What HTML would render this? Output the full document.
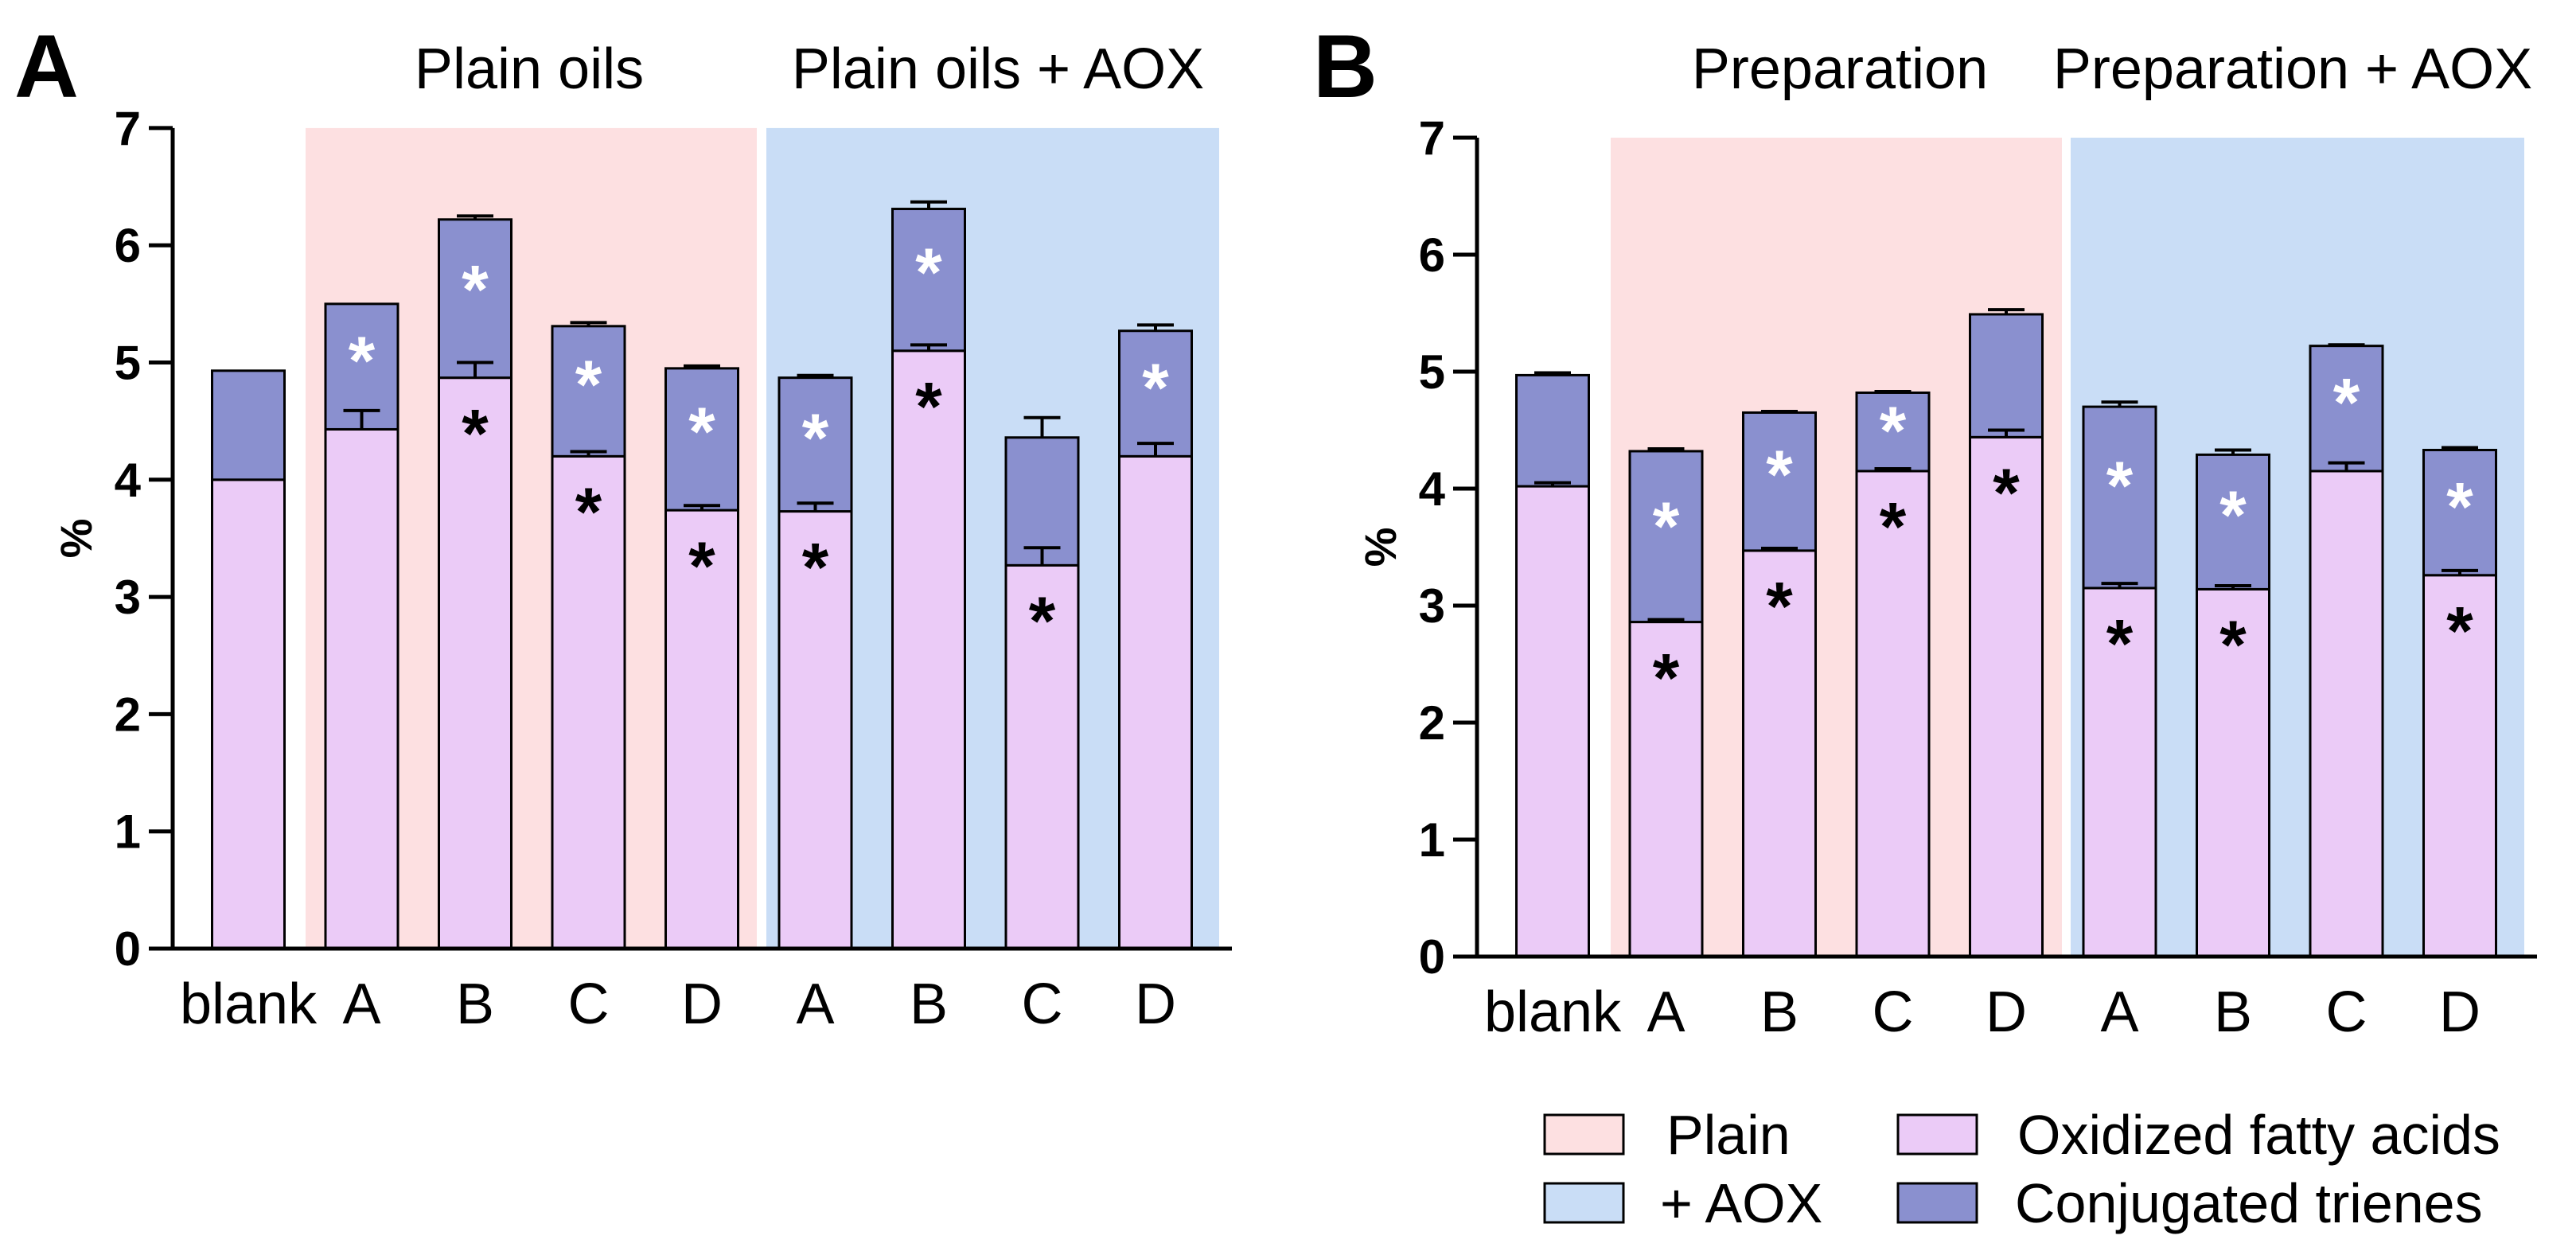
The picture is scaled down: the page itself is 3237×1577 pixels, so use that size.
<!DOCTYPE html>
<html><head><meta charset="utf-8"><style>
html,body{margin:0;padding:0;background:#fff;}
svg{display:block;font-family:"Liberation Sans",Arial,sans-serif;}
</style></head><body>
<svg id="fig" width="3237" height="1577" viewBox="0 0 3237 1577" xmlns="http://www.w3.org/2000/svg"></svg>
<script>
const categories = ["blank","A","B","C","D","A","B","C","D"];
const yTicks = [0,1,2,3,4,5,6,7];
// Panel A
const aOxidized = [4.00,4.43,4.87,4.20,3.74,3.73,5.10,3.27,4.20];
const aOxidizedErr = [0,0.16,0.13,0.04,0.04,0.07,0.05,0.15,0.11];
const aTotal = [4.93,5.50,6.22,5.31,4.95,4.87,6.31,4.36,5.27];
const aTotalErr = [0,0,0.03,0.03,0.02,0.02,0.06,0.17,0.05];
const aWhiteStar = [0,1,1,1,1,1,1,0,1];
const aBlackStar = [0,0,1,1,1,1,1,1,0];
// Panel B
const bOxidized = [4.02,2.86,3.47,4.15,4.44,3.15,3.14,4.15,3.26];
const bOxidizedErr = [0.03,0.02,0.02,0.02,0.06,0.04,0.03,0.07,0.04];
const bTotal = [4.97,4.32,4.65,4.82,5.49,4.70,4.29,5.22,4.33];
const bTotalErr = [0.02,0.02,0.01,0.01,0.04,0.04,0.04,0.01,0.02];
const bWhiteStar = [0,1,1,1,0,1,1,1,1];
const bBlackStar = [0,1,1,1,1,1,1,0,1];

const NS = "http://www.w3.org/2000/svg";
const svg = document.getElementById("fig");
function mk(tag, attrs, parent, text){
  const e = document.createElementNS(NS, tag);
  for (const k in attrs) e.setAttribute(k, attrs[k]);
  if (text !== undefined) e.textContent = text;
  (parent||svg).appendChild(e);
  return e;
}
const PINK="#fde0e1", BLUE="#c9ddf6", OX="#ebcbf7", CT="#8a90cf";

function panel(cfg){
  const g = mk("g",{});
  
  
  const y = v => cfg.y0 - v*cfg.unit;
  const x = i => cfg.x0 + i*cfg.step;
  const bg1 = mk("rect",{x:cfg.pink[0],y:y(7),width:cfg.pink[1]-cfg.pink[0],height:cfg.y0-y(7),fill:PINK},g);
  
  
  const bg2 = mk("rect",{x:cfg.blue[0],y:y(7),width:cfg.blue[1]-cfg.blue[0],height:cfg.y0-y(7),fill:BLUE},g);
  
  
  const bw = 91;
  for (let i=0;i<categories.length;i++){
    const cx = x(i);
    const ox = cfg.ox[i], tot = cfg.tot[i];
    const r1 = mk("rect",{x:cx-bw/2,y:y(ox),width:bw,height:cfg.y0-y(ox),fill:OX,stroke:"#000","stroke-width":3},g);
    
    
    const r2 = mk("rect",{x:cx-bw/2,y:y(tot),width:bw,height:y(ox)-y(tot),fill:CT,stroke:"#000","stroke-width":3},g);
    
    
    const errs = [[ox,cfg.oxe[i]],[tot,cfg.tote[i]]];
    errs.forEach(([v,e],k)=>{
      if (e<=0) return;
      const eb = mk("path",{d:`M${cx},${y(v)} V${y(v+e)} M${cx-23},${y(v+e)} H${cx+23}`,stroke:"#000","stroke-width":4,fill:"none"},g);
      
      
    });
    if (cfg.ws[i]){
      const sy = y(tot - 0.4*(tot-ox));
      const s = mk("text",{x:cx,y:sy+38,"text-anchor":"middle","font-size":86,"font-weight":"bold",fill:"#fff"},g,"*");
      
      
    }
    if (cfg.bs[i]){
      const sy = y(ox - 0.42);
      const s = mk("text",{x:cx,y:sy+38,"text-anchor":"middle","font-size":86,"font-weight":"bold",fill:"#000"},g,"*");
      
      
    }
    const lb = mk("text",{x:cx,y:cfg.y0+94,"text-anchor":"middle","font-size":72,fill:"#000"},g,categories[i]);
    
    
  }
  const ax = mk("path",{d:`M${cfg.ax},${y(7)} V${cfg.y0} H${cfg.xend}`,stroke:"#000","stroke-width":5,fill:"none"},g);
  
  
  yTicks.forEach(t=>{
    const tk = mk("line",{x1:cfg.ax-30,x2:cfg.ax,y1:y(t),y2:y(t),stroke:"#000","stroke-width":5},g);
    
    
    const tl = mk("text",{x:cfg.ax-40,y:y(t)+21,"text-anchor":"end","font-size":60,"font-weight":"bold"},g,String(t));
    
    
  });
  const yt = mk("text",{x:0,y:0,"text-anchor":"middle","font-size":56,"font-weight":"bold",transform:`translate(${cfg.ax-102},${y(3.5)}) rotate(-90)`},g,"%");
  
  
  const pl = mk("text",{x:cfg.letter[0],y:cfg.letter[1],"font-size":112,"font-weight":"bold"},g,cfg.letterText);
  
  
  const t1 = mk("text",{x:cfg.t1[0],y:cfg.t1[1],"text-anchor":"middle","font-size":72},g,cfg.t1[2]);
  
  
  const t2 = mk("text",{x:cfg.t2[0],y:cfg.t2[1],"text-anchor":"middle","font-size":72},g,cfg.t2[2]);
  
  
}

panel({name:"panel-a",x0:312,step:142.5,y0:1192,unit:147.3,ax:217,xend:1548,pink:[384,951],blue:[963,1532],
  ox:aOxidized,oxe:aOxidizedErr,tot:aTotal,tote:aTotalErr,ws:aWhiteStar,bs:aBlackStar,
  letter:[18,122],letterText:"A",t1:[665,111,"Plain oils"],t2:[1254,111,"Plain oils + AOX"]});
panel({name:"panel-b",x0:1951,step:142.5,y0:1202,unit:147,ax:1856,xend:3188,pink:[2024,2591],blue:[2602,3172],
  ox:bOxidized,oxe:bOxidizedErr,tot:bTotal,tote:bTotalErr,ws:bWhiteStar,bs:bBlackStar,
  letter:[1650,122],letterText:"B",t1:[2312,111,"Preparation"],t2:[2881,111,"Preparation + AOX"]});

const lg = mk("g",{});


const legendItems = [[1941,1401,PINK,"Plain",2094],[1941,1487,BLUE,"+ AOX",2086],[2385,1401,OX,"Oxidized fatty acids",2535],[2385,1487,CT,"Conjugated trienes",2532]];
legendItems.forEach(([lx,ly,c,t,tx])=>{
  const b = mk("rect",{x:lx,y:ly,width:99,height:49,fill:c,stroke:"#000","stroke-width":3},lg);
  
  
  const tt = mk("text",{x:tx,y:ly+49,"font-size":70},lg,t);
  
  
});
</script>
</body></html>
